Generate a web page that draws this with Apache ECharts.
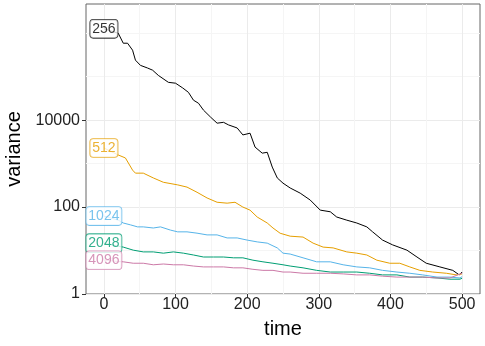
<!DOCTYPE html>
<html>
<head>
<meta charset="utf-8">
<script src="https://cdn.jsdelivr.net/npm/echarts@6.0.0/dist/echarts.min.js"></script>
<style>
  html, body { margin: 0; padding: 0; background: #fff; }
  #chart { width: 485px; height: 346px; }
</style>
</head>
<body>
<div id="chart"></div>
<script>
// variance over time: [time, variance]
var v256 = [[0,1260000],[20,1000000],[27,589000],[33,589000],[40,407000],[44,240000],[51,182000],
  [61,158000],[68,141000],[76,107000],[90,74100],[100,70800],[110,55000],[118,43600],[125,28800],
  [132,24500],[139,17000],[149,11700],[158,8510],[167,8910],[174,7760],[186,6610],[194,4570],
  [204,5010],[211,2400],[221,1740],[228,1820],[235,832],[242,468],[250,355],[260,275],[274,209],
  [288,145],[302,85],[316,78],[325,59],[339,50],[353,43],[367,35],[375,27],[389,17.4],[403,13.5],
  [423,10.2],[437,7.1],[450,5.1],[469,4.2],[487,3.5],[496,2.75],[500,3.2]];
var v512 = [[0,2290],[20,1580],[30,1350],[40,708],[44,603],[55,603],[69,468],[83,372],[103,324],
  [116,288],[130,219],[144,162],[158,129],[172,123],[183,129],[194,100],[204,85],[214,59],[228,43],
  [236,33],[246,25],[260,21.4],[278,20.4],[292,14.8],[306,12],[320,11.5],[339,9.3],[353,8.7],
  [367,7.9],[381,6],[399,5.1],[413,5.1],[427,4.2],[441,3.5],[459,3.2],[478,3],[492,2.75],[500,2.9]];
var v1024 = [[0,62],[20,50],[27,43],[37,39],[47,35],[55,35],[69,33],[79,35],[93,29.5],[103,26.9],
  [116,26.9],[130,25.1],[144,22.9],[158,22.9],[172,19.5],[186,19.5],[200,17.4],[214,15.8],[228,14.8],
  [242,11.5],[250,8.7],[260,8.3],[278,6.8],[297,5.5],[316,5.5],[334,4.7],[353,4.2],[371,4],[389,3.5],
  [409,3.2],[427,3],[445,2.75],[465,2.45],[483,2.45],[497,2.34],[500,2.5]];
var v2048 = [[0,14.8],[20,12.6],[27,12],[41,10.2],[55,9.3],[69,9.3],[83,8.7],[97,9.3],[111,8.7],
  [125,7.9],[139,7.1],[153,7.1],[167,7.1],[181,6.8],[194,6.8],[208,6],[222,5.5],[236,5.1],[250,4.7],
  [260,4.4],[278,4],[297,3.5],[316,3.2],[334,3.2],[353,3.2],[371,3],[389,2.75],[409,2.75],[427,2.45],
  [445,2.45],[465,2.34],[483,2.19],[497,2.19],[500,2.3]];
var v4096 = [[0,6],[20,5.6],[27,5.5],[41,5.1],[55,5.1],[69,4.7],[83,4.9],[97,4.7],[111,4.7],[125,4.4],
  [139,4.2],[153,4.2],[167,4.2],[181,4],[194,4],[208,3.7],[222,3.5],[236,3.5],[250,3.2],[260,3.2],
  [278,3],[297,3],[316,3],[334,2.9],[353,2.75],[371,2.75],[389,2.57],[409,2.45],[427,2.45],[445,2.45],
  [465,2.34],[483,2.34],[494,2.75],[500,3]];

var groups = ['256', '512', '1024', '2048', '4096'];
var groupData = [v256, v512, v1024, v2048, v4096];
var colors = ['#000000', '#E69F00', '#56B4E9', '#009E73', '#CC79A7'];

var xMajor = [0, 100, 200, 300, 400, 500];
var xMinor = [50, 150, 250, 350, 450];
var yMajor = [1, 100, 10000];
var yMinor = [10, 1000, 100000, 1000000];

var font = 'Liberation Sans, Arial, Helvetica, sans-serif';
var myChart = echarts.init(document.getElementById('chart'));

var series = groups.map(function (g, i) {
  return {
    name: g,
    type: 'line',
    xAxisIndex: 0,
    yAxisIndex: 0,
    data: groupData[i],
    showSymbol: false,
    silent: true,
    lineStyle: { color: colors[i], width: 1 },
    z: 2
  };
});

// boxed labels at the start of each line
series.push({
  type: 'scatter',
  xAxisIndex: 0,
  yAxisIndex: 0,
  symbolSize: 1,
  itemStyle: { color: 'rgba(0,0,0,0)' },
  silent: true,
  z: 5,
  data: groups.map(function (g, i) {
    return {
      value: [groupData[i][0][0], groupData[i][0][1]],
      label: {
        show: true,
        position: 'inside',
        formatter: g,
        color: colors[i],
        fontFamily: font,
        fontSize: 14,
        lineHeight: 16,
        backgroundColor: '#fff',
        borderColor: colors[i],
        borderWidth: 0.8,
        borderRadius: 3,
        padding: [1, 2, 1, 2]
      }
    };
  })
});

var option = {
  animation: false,
  backgroundColor: '#fff',
  grid: {
    left: 86, right: 5, top: 4, bottom: 52,
    outerBoundsMode: 'none',
    show: true,
    borderColor: '#666',
    borderWidth: 1
  },
  xAxis: [{
    type: 'value',
    position: 'bottom',
    min: -25,
    max: 525,
    name: 'time',
    nameLocation: 'middle',
    nameGap: 25,
    nameTextStyle: { fontFamily: font, fontSize: 20, color: '#000' },
    axisLine: { show: false, onZero: false },
    axisTick: { show: true, length: 4, customValues: xMajor, lineStyle: { color: '#333' } },
    axisLabel: { customValues: xMajor, fontFamily: font, fontSize: 16, color: '#222', margin: 3 },
    splitLine: { show: true, lineStyle: { color: '#ebebeb', width: 1 } }
  }, {
    type: 'value',
    position: 'top',
    min: -25,
    max: 525,
    axisLine: { show: false, onZero: false },
    axisTick: { show: false, customValues: xMinor },
    axisLabel: { show: false },
    splitLine: { show: true, lineStyle: { color: '#f5f5f5', width: 1 } }
  }],
  yAxis: [{
    type: 'log',
    logBase: 10,
    position: 'left',
    min: 1,
    max: 4700000,
    name: 'variance',
    nameLocation: 'middle',
    nameGap: 62,
    nameTextStyle: { fontFamily: font, fontSize: 20, color: '#000' },
    axisLine: { show: false, onZero: false },
    axisTick: { show: true, length: 4, customValues: yMajor, lineStyle: { color: '#333' } },
    axisLabel: {
      customValues: yMajor,
      fontFamily: font, fontSize: 16, color: '#222', margin: 6,
      formatter: function (v) { return String(Math.round(v)); }
    },
    splitLine: { show: true, lineStyle: { color: '#ebebeb', width: 1 } }
  }, {
    type: 'log',
    logBase: 10,
    position: 'right',
    min: 1,
    max: 4700000,
    axisLine: { show: false, onZero: false },
    axisTick: { show: false, customValues: yMinor },
    axisLabel: { show: false },
    splitLine: { show: true, lineStyle: { color: '#f5f5f5', width: 1 } }
  }],
  series: series
};

myChart.setOption(option);
window.onresize = function () { myChart.resize(); };
</script>
</body>
</html>
